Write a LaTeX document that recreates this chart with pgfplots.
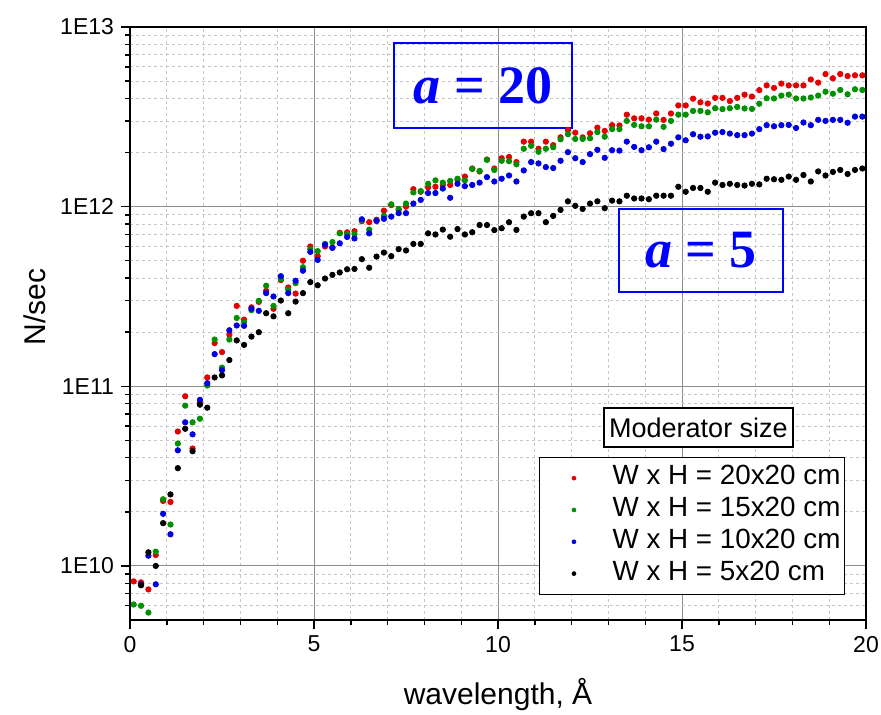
\documentclass[border=0pt]{standalone}
\usepackage{fontspec}
\setmainfont{Liberation Sans}
\newfontfamily\timesfont{Liberation Serif}
\usepackage{pgfplots}
\usepackage{pgfplotstable}
\pgfplotsset{compat=1.18}
\definecolor{cred}{RGB}{228,0,0}
\definecolor{cgreen}{RGB}{0,145,0}
\definecolor{cblue}{RGB}{0,0,230}
\definecolor{boxblue}{RGB}{0,0,255}

\pgfplotstableread{
x r g b k
0.1 8.2e9 6.1e9 nan nan
0.3 8.1e9 6.0e9 7.9e9 7.8e9
0.5 7.4e9 5.5e9 1.14e10 1.19e10
0.7 1.15e10 1.2e10 7.9e9 1.0e10
0.9 2.3e10 2.35e10 1.95e10 1.73e10
1.1 2.27e10 1.7e10 1.5e10 2.5e10
1.3 5.6e10 4.8e10 4.4e10 3.5e10
1.5 8.8e10 7.8e10 6.3e10 5.8e10
1.7 4.5e10 6.3e10 5.4e10 4.35e10
1.9 8.1e10 6.6e10 8.4e10 7.9e10
2.1 1.12e11 1.01e11 1.04e11 7.6e10
2.3 1.74e11 1.82e11 1.51e11 1.12e11
2.5 1.55e11 1.27e11 1.23e11 1.15e11
2.7 1.94e11 1.82e11 2.05e11 1.4e11
2.9 2.8e11 2.4e11 2.18e11 1.8e11
3.1 2.35e11 2.28e11 2.17e11 1.7e11
3.3 2.75e11 2.65e11 2.7e11 1.89e11
3.5 2.95e11 2.99e11 2.63e11 2.0e11
3.7 3.4e11 3.63e11 3.3e11 2.55e11
3.9 2.7e11 2.8e11 3.16e11 2.45e11
4.1 3.9e11 3.95e11 4.1e11 3.0e11
4.3 3.55e11 3.45e11 3.3e11 2.55e11
4.5 3.28e11 3.75e11 3.87e11 2.96e11
4.7 5.0e11 4.6e11 4.4e11 3.3e11
4.9 6.0e11 5.8e11 5.6e11 3.8e11
5.1 5.3e11 5.65e11 5.05e11 3.65e11
5.3 6.0e11 6.2e11 6.15e11 3.98e11
5.5 5.9e11 6.35e11 5.9e11 4.17e11
5.7 7.15e11 7.1e11 6.25e11 4.3e11
5.9 7.2e11 7.05e11 6.78e11 4.48e11
6.1 7.3e11 7.05e11 6.65e11 4.5e11
6.3 8.3e11 8.4e11 8.5e11 5.1e11
6.5 8.2e11 7.45e11 7.1e11 4.57e11
6.7 8.45e11 8.3e11 8.35e11 5.27e11
6.9 9.5e11 8.9e11 8.55e11 5.55e11
7.1 1.02e12 1.03e12 8.8e11 5.3e11
7.3 9.6e11 9.7e11 9.2e11 5.8e11
7.5 1.0e12 1.04e12 9.2e11 5.7e11
7.7 1.25e12 1.2e12 1.04e12 6.2e11
7.9 1.21e12 1.22e12 1.09e12 6.2e11
8.1 1.28e12 1.34e12 1.19e12 7.1e11
8.3 1.29e12 1.4e12 1.19e12 7.0e11
8.5 1.32e12 1.36e12 1.26e12 7.45e11
8.7 1.32e12 1.39e12 1.12e12 6.8e11
8.9 1.41e12 1.43e12 1.34e12 7.5e11
9.1 1.47e12 1.4e12 1.3e12 7.0e11
9.3 1.63e12 1.62e12 1.32e12 7.2e11
9.5 1.57e12 1.58e12 1.36e12 7.9e11
9.7 1.83e12 1.82e12 1.46e12 7.9e11
9.9 1.63e12 1.6e12 1.38e12 7.4e11
10.1 1.86e12 1.8e12 1.43e12 7.58e11
10.3 1.89e12 1.79e12 1.49e12 8.19e11
10.5 1.77e12 1.72e12 1.38e12 7.42e11
10.7 2.3e12 2.1e12 1.59e12 8.8e11
10.9 2.3e12 2.18e12 1.77e12 9.19e11
11.1 2.1e12 2.02e12 1.74e12 9.19e11
11.3 2.3e12 2.1e12 1.66e12 8.19e11
11.5 2.2e12 2.14e12 1.64e12 8.88e11
11.7 2.43e12 2.37e12 1.8e12 9.59e11
11.9 2.67e12 2.53e12 2.01e12 1.07e12
12.1 2.58e12 2.38e12 1.86e12 1.01e12
12.3 2.43e12 2.38e12 1.77e12 9.71e11
12.5 2.56e12 2.4e12 1.96e12 1.04e12
12.7 2.75e12 2.6e12 2.07e12 1.07e12
12.9 2.64e12 2.45e12 1.87e12 9.8e11
13.1 2.84e12 2.7e12 2.06e12 1.08e12
13.3 2.83e12 2.7e12 2.05e12 1.07e12
13.5 3.25e12 3.0e12 2.3e12 1.15e12
13.7 3.1e12 2.85e12 2.15e12 1.11e12
13.9 3.1e12 2.8e12 2.06e12 1.11e12
14.1 3.05e12 2.8e12 2.14e12 1.1e12
14.3 3.3e12 3.05e12 2.3e12 1.15e12
14.5 3.04e12 2.78e12 2.09e12 1.15e12
14.7 3.3e12 3.0e12 2.24e12 1.15e12
14.9 3.66e12 3.25e12 2.43e12 1.29e12
15.1 3.66e12 3.25e12 2.34e12 1.21e12
15.3 3.99e12 3.41e12 2.53e12 1.27e12
15.5 3.81e12 3.41e12 2.45e12 1.27e12
15.7 3.75e12 3.35e12 2.46e12 1.21e12
15.9 4.03e12 3.53e12 2.58e12 1.36e12
16.1 4.03e12 3.49e12 2.6e12 1.32e12
16.3 3.87e12 3.53e12 2.55e12 1.34e12
16.5 4.03e12 3.59e12 2.5e12 1.32e12
16.7 4.2e12 3.52e12 2.5e12 1.31e12
16.9 4.1e12 3.5e12 2.55e12 1.34e12
17.1 4.45e12 3.74e12 2.7e12 1.33e12
17.3 4.73e12 4.01e12 2.84e12 1.43e12
17.5 4.58e12 4.0e12 2.8e12 1.42e12
17.7 4.84e12 4.15e12 2.84e12 1.41e12
17.9 4.73e12 4.2e12 2.85e12 1.47e12
18.1 4.73e12 4.0e12 2.74e12 1.41e12
18.3 4.73e12 4.0e12 2.94e12 1.5e12
18.5 5.1e12 4.05e12 2.84e12 1.38e12
18.7 4.9e12 4.15e12 3.04e12 1.57e12
18.9 5.47e12 4.36e12 3.0e12 1.49e12
19.1 5.18e12 4.25e12 3.04e12 1.56e12
19.3 5.47e12 4.46e12 3.04e12 1.6e12
19.5 5.33e12 4.22e12 2.93e12 1.52e12
19.7 5.38e12 4.5e12 3.17e12 1.6e12
19.9 5.38e12 4.46e12 3.17e12 1.63e12
}\data

\begin{document}
\begin{tikzpicture}
\useasboundingbox (-65pt,-47pt) rectangle (375.5pt,310pt);
\begin{axis}[
  scale only axis, width=368pt, height=296.5pt,
  xmin=0, xmax=20, ymode=log, ymin=5e9, ymax=1e13,
  xtick={0,5,10,15,20},
  minor xtick={1,2,3,4,6,7,8,9,11,12,13,14,16,17,18,19},
  ytick={1e10,1e11,1e12,1e13}, yticklabels={1E10,1E11,1E12,1E13},
  minor ytick={6e9,7e9,8e9,9e9,2e10,3e10,4e10,5e10,6e10,7e10,8e10,9e10,2e11,3e11,4e11,5e11,6e11,7e11,8e11,9e11,2e12,3e12,4e12,5e12,6e12,7e12,8e12,9e12},
  grid=both,
  major grid style={draw=black!45, line width=0.5pt},
  minor grid style={draw=black!22, line width=0.4pt, dash pattern=on 1.5pt off 1.5pt},
  tick align=outside, tick pos=left,
  major tick length=4.5pt, minor tick length=2.5pt,
  tick style={black, line width=0.7pt},
  axis line style={line width=0.8pt},
  /pgf/number format/assume math mode=true,
  ticklabel style={font=\fontsize{11.5}{13}\selectfont},
  xlabel={wavelength, Å}, ylabel={N/sec},
  label style={font=\fontsize{15}{18}\selectfont},
  xlabel style={at={(axis description cs:0.5,-0.1265)}, anchor=center},
  ylabel style={at={(axis description cs:-0.129,0.528)}, anchor=center},
  legend cell align=left,
  legend image code/.code={\path (0pt,0pt) (34pt,0pt); \draw[#1, line width=0.3pt, mark size=1pt] plot coordinates {(17pt,0pt)};},
  legend style={at={(rel axis cs:0.9715,0.042)}, anchor=south east, draw=black, line width=0.6pt, fill=white,
    font=\fontsize{13.9}{16}\selectfont, inner xsep=0pt, inner ysep=2.5pt, row sep=0pt,
    nodes={inner ysep=1.2pt, text height=10pt, text depth=3.5pt}},
]
\addplot[only marks, mark=*, mark size=1.35pt, color=cred] table[x=x, y=r] {\data};
\addlegendentry{W x H = 20x20 cm}
\addplot[only marks, mark=*, mark size=1.35pt, color=cgreen] table[x=x, y=g] {\data};
\addlegendentry{W x H = 15x20 cm}
\addplot[only marks, mark=*, mark size=1.35pt, color=cblue] table[x=x, y=b] {\data};
\addlegendentry{W x H = 10x20 cm}
\addplot[only marks, mark=*, mark size=1.35pt, color=black] table[x=x, y=k] {\data};
\addlegendentry{W x H = 5x20 cm}
\node[draw=black, line width=0.6pt, fill=white, minimum width=94.5pt, minimum height=19.5pt, inner sep=0pt,
  font=\fontsize{13.5}{16}\selectfont] at (rel axis cs:0.7724,0.3246) {Moderator size};
\node[draw=boxblue, line width=1pt, text=boxblue, minimum width=89pt, minimum height=42.5pt, inner sep=0pt,
  font=\timesfont\fontsize{27}{30}\selectfont\bfseries] at (axis cs:9.59,4.72e12) {\textit{a} = 20};
\node[draw=boxblue, line width=1pt, text=boxblue, minimum width=81.7pt, minimum height=41.5pt, inner sep=0pt,
  font=\timesfont\fontsize{27}{30}\selectfont\bfseries] at (axis cs:15.52,5.7e11) {\textit{a} = 5};
\end{axis}
\end{tikzpicture}
\end{document}
